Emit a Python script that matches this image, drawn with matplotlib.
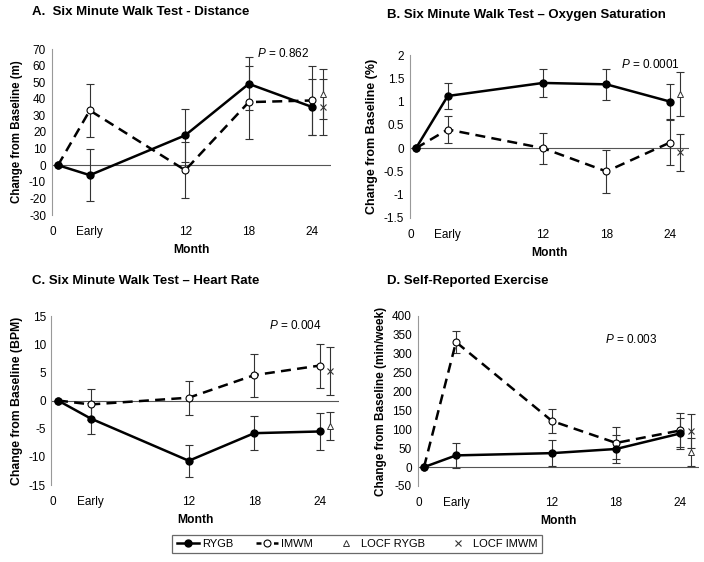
import matplotlib
matplotlib.use('Agg')
import matplotlib.pyplot as plt
from matplotlib.lines import Line2D
import numpy as np

plt.rcParams['font.family'] = ['Liberation Sans', 'DejaVu Sans']
plt.rcParams['mathtext.fontset'] = 'custom'
plt.rcParams['mathtext.it'] = 'Liberation Sans:italic'
plt.rcParams['mathtext.rm'] = 'Liberation Sans'

# x positions of visits (months); LOCF points sit just right of 24
months = [0, 3, 12, 18, 24]
locf_x = 25
tick_labels = ['0', 'Early', '12', '18', '24']

# A. distance
rygb_a = [0, -6, 18, 49, 35]
rygb_a_err = [0, 15.5, 16, 16, 17]
imwm_a = [0, 33, -3, 38, 39]
imwm_a_err = [0, 16, 17, 22, 21]
locf_a = [43, 35]          # LOCF RYGB, LOCF IMWM
locf_a_err = [15, 17]

# B. oxygen saturation
rygb_b = [0, 1.12, 1.4, 1.37, 1.0]
rygb_b_err = [0, 0.28, 0.3, 0.33, 0.37]
imwm_b = [0, 0.4, 0.0, -0.5, 0.12]
imwm_b_err = [0, 0.29, 0.33, 0.47, 0.48]
locf_b = [1.16, -0.09]
locf_b_err = [0.47, 0.4]

# C. heart rate
rygb_c = [0, -3.2, -10.7, -5.8, -5.5]
rygb_c_err = [0, 2.8, 2.8, 3.0, 3.3]
imwm_c = [0, -0.7, 0.5, 4.5, 6.2]
imwm_c_err = [0, 2.7, 3.0, 3.8, 3.9]
locf_c = [-4.6, 5.2]
locf_c_err = [2.5, 4.3]

# D. self-reported exercise
rygb_d = [0, 31, 37, 48, 89]
rygb_d_err = [0, 33, 34, 36, 41]
imwm_d = [0, 331, 122, 64, 97]
imwm_d_err = [0, 30, 33, 43, 45]
locf_d = [40, 95]
locf_d_err = [38, 45]

W, H = 704, 562
fig = plt.figure(figsize=(W / 100, H / 100), dpi=100)

XL = (-0.6, 25.8)


def rect(zero_px, px_per_month, top_px, bottom_px):
    left = zero_px + XL[0] * px_per_month
    right = zero_px + XL[1] * px_per_month
    return [left / W, 1 - bottom_px / H, (right - left) / W, (bottom_px - top_px) / H]


panels = [
    dict(title='A.  Six Minute Walk Test - Distance', ylabel='Change from Baseline (m)', ylfs=8.3,
         rygb=rygb_a, rygb_err=rygb_a_err, imwm=imwm_a, imwm_err=imwm_a_err,
         locf=locf_a, locf_err=locf_a_err, ylim=(-30, 70), yticks=np.arange(-30, 71, 10),
         p='0.862', pxy=(18.8, 67), box=rect(58, 10.6, 49, 215), tpos=(32, 12)),
    dict(title='B. Six Minute Walk Test \u2013 Oxygen Saturation', ylabel='Change from Baseline (%)', ylfs=9,
         rygb=rygb_b, rygb_err=rygb_b_err, imwm=imwm_b, imwm_err=imwm_b_err,
         locf=locf_b, locf_err=locf_b_err, ylim=(-1.5, 2), yticks=np.arange(-1.5, 2.01, 0.5),
         p='0.0001', pxy=(19.4, 1.8), box=rect(416, 10.58, 55, 218), tpos=(387, 15)),
    dict(title='C. Six Minute Walk Test \u2013 Heart Rate', ylabel='Change from Baseline (BPM)', ylfs=8.8,
         rygb=rygb_c, rygb_err=rygb_c_err, imwm=imwm_c, imwm_err=imwm_c_err,
         locf=locf_c, locf_err=locf_c_err, ylim=(-15, 15), yticks=np.arange(-15, 16, 5),
         p='0.004', pxy=(19.4, 13.4), box=rect(58, 10.9, 316, 485), tpos=(32, 281)),
    dict(title='D. Self-Reported Exercise', ylabel='Change from Baseline (min/week)', ylfs=8.5,
         rygb=rygb_d, rygb_err=rygb_d_err, imwm=imwm_d, imwm_err=imwm_d_err,
         locf=locf_d, locf_err=locf_d_err, ylim=(-50, 400), yticks=np.arange(-50, 401, 50),
         p='0.003', pxy=(17.0, 338), box=rect(424, 10.67, 316, 486), tpos=(387, 281)),
]

for pn in panels:
    ax = fig.add_axes(pn['box'])
    ax.axhline(0, color='#555555', lw=0.8, zorder=1)
    ax.errorbar(months[1:], pn['imwm'][1:], yerr=pn['imwm_err'][1:], fmt='none',
                ecolor='#333333', elinewidth=0.8, capsize=3, capthick=0.8, zorder=2)
    ax.errorbar(months[1:], pn['rygb'][1:], yerr=pn['rygb_err'][1:], fmt='none',
                ecolor='#333333', elinewidth=0.8, capsize=3, capthick=0.8, zorder=2)
    ax.errorbar([locf_x, locf_x], pn['locf'], yerr=pn['locf_err'], fmt='none',
                ecolor='#333333', elinewidth=0.8, capsize=3, capthick=0.8, zorder=2)
    ax.plot(months, pn['imwm'], color='black', lw=1.8, ls=(0, (4, 2.5)), marker='o',
            ms=5, mfc='white', mec='black', mew=0.8, zorder=3)
    ax.plot(months, pn['rygb'], color='black', lw=1.8, marker='o', ms=5,
            mfc='black', mec='black', zorder=4)
    ax.plot([locf_x], [pn['locf'][0]], ls='none', marker='^', ms=4.5, mfc='white',
            mec='#333333', mew=0.7, zorder=5)
    ax.plot([locf_x], [pn['locf'][1]], ls='none', marker='x', ms=4, mec='#333333',
            mew=0.8, zorder=5)

    ax.set_xlim(*XL)
    ax.set_ylim(*pn['ylim'])
    ax.set_yticks(pn['yticks'])
    ax.set_yticklabels(['%g' % v for v in pn['yticks']], fontsize=8.5)
    ax.set_xticks([XL[0] + 0.1] + months[1:])
    ax.set_xticklabels(tick_labels, fontsize=8.5)
    ax.tick_params(axis='both', length=0, pad=4)
    ax.tick_params(axis='x', pad=8)
    for s in ['top', 'right', 'bottom']:
        ax.spines[s].set_visible(False)
    ax.spines['left'].set_color('#999999')
    ax.spines['left'].set_linewidth(0.8)
    ax.patch.set_alpha(0)

    ax.set_ylabel(pn['ylabel'], fontsize=pn['ylfs'], fontweight='bold', labelpad=4)
    ax.set_xlabel('Month', fontsize=8.7, fontweight='bold', labelpad=4)
    ax.text(pn['pxy'][0], pn['pxy'][1], r'$\it{P}$ = ' + pn['p'], fontsize=8.5,
            ha='left', va='center')
    fig.text(pn['tpos'][0] / W, 1 - pn['tpos'][1] / H, pn['title'], fontsize=9.5,
             fontweight='bold', ha='left', va='center')

handles = [
    Line2D([], [], color='black', lw=1.8, marker='o', ms=5, mfc='black'),
    Line2D([], [], color='black', lw=1.8, ls=(0, (2, 1.5)), marker='o', ms=5, mfc='white', mew=0.8),
    Line2D([], [], ls='none', marker='^', ms=4.5, mfc='white', mec='#333333', mew=0.7),
    Line2D([], [], ls='none', marker='x', ms=4, mec='#333333', mew=0.8),
]
leg = fig.legend(handles, ['RYGB', 'IMWM', 'LOCF RYGB', 'LOCF IMWM'], ncol=4,
                 loc='center', bbox_to_anchor=(357 / W, 1 - 544 / H), fontsize=8,
                 frameon=True, fancybox=False, handlelength=2.0, handletextpad=0.3,
                 columnspacing=2.0, borderpad=0.4)
leg.get_frame().set_edgecolor('#444444')
leg.get_frame().set_linewidth(0.9)

fig.savefig('out.png', dpi=100)
